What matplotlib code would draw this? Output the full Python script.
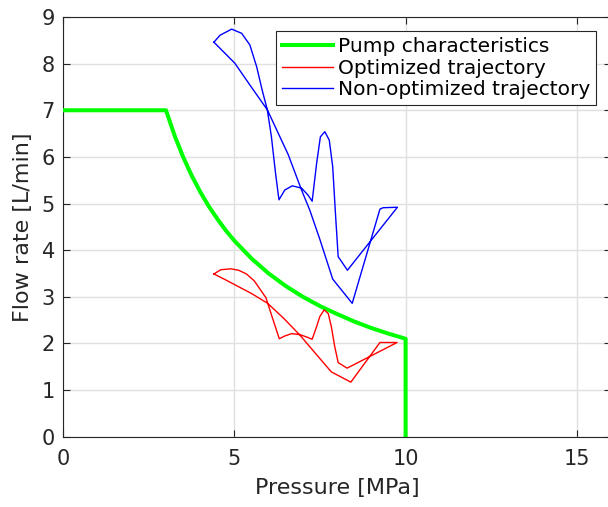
import matplotlib
matplotlib.use("Agg")
import matplotlib.pyplot as plt

plt.rcParams['font.family'] = ['DejaVu Sans']

# Pump characteristics
pump_p = [0, 3.0, 3.25, 3.5, 3.75, 4.0, 4.25, 4.5, 4.75, 5.0, 5.5, 6.0, 6.5, 7.0,
          7.5, 8.0, 8.5, 9.0, 9.5, 10.0, 10.0]
pump_q = [7, 7.0, 6.46, 6.0, 5.6, 5.25, 4.94, 4.67, 4.42, 4.2, 3.82, 3.5, 3.23, 3.0,
          2.8, 2.63, 2.47, 2.33, 2.21, 2.1, 0]

# Optimized trajectory
opt_p = [4.40, 4.60, 4.89, 5.12, 5.35, 5.58, 5.74, 5.92, 6.10, 6.31,
         6.47, 6.67, 6.91, 7.10, 7.27,
         7.40, 7.49, 7.62, 7.74, 7.83, 7.93, 8.03, 8.29,
         9.75, 9.25, 8.40, 7.83,
         7.35, 6.91, 6.45, 5.97, 5.50, 5.11, 4.75, 4.40]
opt_q = [3.49, 3.58, 3.60, 3.57, 3.49, 3.34, 3.17, 2.98, 2.57, 2.10,
         2.16, 2.21, 2.19, 2.14, 2.09,
         2.36, 2.57, 2.72, 2.64, 2.36, 1.93, 1.59, 1.47,
         2.02, 2.02, 1.17, 1.39,
         1.80, 2.18, 2.53, 2.86, 3.07, 3.22, 3.36, 3.49]

# Non-optimized trajectory
non_p = [4.40, 4.58, 4.92, 5.21, 5.45, 5.65, 5.81, 5.96, 6.08, 6.20, 6.30,
         6.47, 6.69, 6.96, 7.15, 7.27,
         7.40, 7.51, 7.64, 7.77, 7.87, 7.95, 8.03, 8.30,
         9.76, 9.34, 9.25, 8.44, 7.87,
         7.50, 7.20, 6.96, 6.57, 5.96, 5.50, 5.01, 4.40]
non_q = [8.46, 8.61, 8.74, 8.65, 8.40, 7.93, 7.43, 7.01, 6.43, 5.65, 5.08,
         5.29, 5.38, 5.33, 5.18, 5.05,
         5.86, 6.43, 6.54, 6.36, 5.79, 4.79, 3.86, 3.57,
         4.92, 4.91, 4.88, 2.86, 3.38,
         4.22, 4.86, 5.29, 6.05, 7.01, 7.49, 8.01, 8.46]

W, H = 608, 507
fig = plt.figure(figsize=(W / 100, H / 100), dpi=100)
ax = fig.add_axes([63.3 / W, (H - 436.7) / H, (611 - 63.3) / W, (436.7 - 17.0) / H])

dark = (0.15, 0.15, 0.15)
ax.plot(pump_p, pump_q, color=(0, 1, 0), lw=2.9, label='Pump characteristics', zorder=3)
ax.plot(opt_p, opt_q, color=(1, 0, 0), lw=1.0, label='Optimized trajectory', zorder=3)
ax.plot(non_p, non_q, color=(0, 0, 1), lw=1.0, label='Non-optimized trajectory', zorder=3)

ax.set_xlim(0, 16)
ax.set_ylim(0, 9)
ax.set_xticks([0, 5, 10, 15])
ax.set_yticks(range(0, 10))
ax.grid(True, color=(0.88, 0.88, 0.88), lw=1.0)
ax.set_axisbelow(True)
ax.tick_params(direction='in', length=5, width=0.8, colors=dark,
               labelsize=15, top=True, right=True)
ax.tick_params(axis='x', pad=9)
ax.tick_params(axis='y', pad=6)
for s in ax.spines.values():
    s.set_color(dark)
    s.set_linewidth(0.8)

ax.set_xlabel('Pressure [MPa]', fontsize=16, color=dark, labelpad=6)
ax.set_ylabel('Flow rate [L/min]', fontsize=16, color=dark, labelpad=6)

leg = ax.legend(loc='upper right', bbox_to_anchor=(596 / W, 1 - 31 / H),
                bbox_transform=fig.transFigure, borderaxespad=0, fancybox=False,
                framealpha=1, edgecolor=dark, fontsize=14.5,
                handlelength=2.5, handletextpad=0.25, borderpad=0.3, labelspacing=0.13)
leg.get_frame().set_linewidth(0.8)

fig.savefig('out.png', dpi=100)
